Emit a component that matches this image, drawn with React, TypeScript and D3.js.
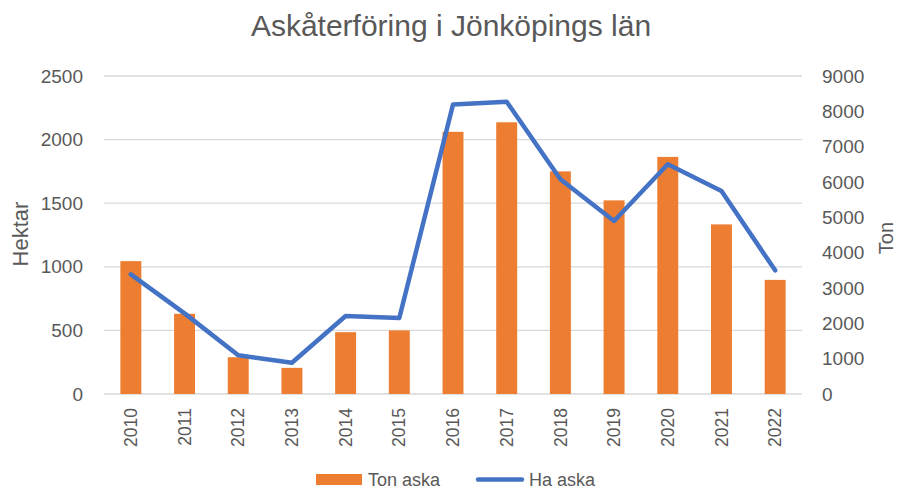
import React from "react";
import * as d3 from "d3";

const years = ["2010", "2011", "2012", "2013", "2014", "2015", "2016", "2017", "2018", "2019", "2020", "2021", "2022"];
const tonAska = [3760, 2270, 1040, 740, 1750, 1800, 7420, 7690, 6300, 5480, 6710, 4800, 3230];
const haAska = [940, 634, 304, 246, 613, 597, 2275, 2298, 1688, 1360, 1806, 1596, 972];
const leftTicks = [0, 500, 1000, 1500, 2000, 2500];
const rightTicks = [0, 1000, 2000, 3000, 4000, 5000, 6000, 7000, 8000, 9000];

const W = 897;
const H = 489;
const FONT = "'Liberation Sans', Arial, sans-serif";
const TXT = "#595959";

export default function App() {
  const x = d3.scaleBand<string>().domain(years).range([104, 802]).paddingInner(0.61).paddingOuter(0.305);
  const yL = d3.scaleLinear().domain([0, 2500]).range([394, 76]);
  const yR = d3.scaleLinear().domain([0, 9000]).range([394, 76]);
  const cx = (y: string) => (x(y) ?? 0) + x.bandwidth() / 2;
  const line = d3
    .line<number>()
    .x((_, i) => cx(years[i]))
    .y((d) => yL(d));

  return (
    <svg width={W} height={H} style={{ position: "absolute", left: 0, top: 0, background: "#fff" }} fontFamily={FONT}>
      <rect x={0} y={0} width={W} height={H} fill="#fff" />
      <text x={451} y={36} textAnchor="middle" fontSize={30} fill={TXT}>
        Askåterföring i Jönköpings län
      </text>
      {leftTicks.map((t) => (
        <g key={"g" + t}>
          <line x1={104} x2={802} y1={yL(t)} y2={yL(t)} stroke="#D9D9D9" strokeWidth={1.3} />
          <text x={83} y={yL(t)} dy="0.35em" textAnchor="end" fontSize={19} fill={TXT}>
            {t}
          </text>
        </g>
      ))}
      {rightTicks.map((t) => (
        <text key={"r" + t} x={822} y={yR(t)} dy="0.35em" textAnchor="start" fontSize={19} fill={TXT}>
          {t}
        </text>
      ))}
      {tonAska.map((v, i) => (
        <rect key={"b" + i} x={x(years[i])} y={yR(v)} width={x.bandwidth()} height={yR(0) - yR(v)} fill="#ED7D31" />
      ))}
      <path d={line(haAska) ?? ""} fill="none" stroke="#4472C4" strokeWidth={4.5} strokeLinejoin="round" strokeLinecap="round" />
      {years.map((y) => (
        <text
          key={"x" + y}
          transform={`translate(${cx(y)},408) rotate(-90)`}
          dy="0.35em"
          textAnchor="end"
          fontSize={17.5}
          fill={TXT}
        >
          {y}
        </text>
      ))}
      <text transform="translate(28,234) rotate(-90)" textAnchor="middle" fontSize={22} fill={TXT}>
        Hektar
      </text>
      <text transform="translate(893,238) rotate(-90)" textAnchor="middle" fontSize={20} fill={TXT}>
        Ton
      </text>
      <rect x={316} y={474} width={46} height={11} fill="#ED7D31" />
      <text x={368} y={486} fontSize={18} fill={TXT}>
        Ton aska
      </text>
      <line x1={478} x2={522} y1={479.5} y2={479.5} stroke="#4472C4" strokeWidth={4.5} strokeLinecap="round" />
      <text x={529} y={486} fontSize={18} fill={TXT}>
        Ha aska
      </text>
    </svg>
  );
}
